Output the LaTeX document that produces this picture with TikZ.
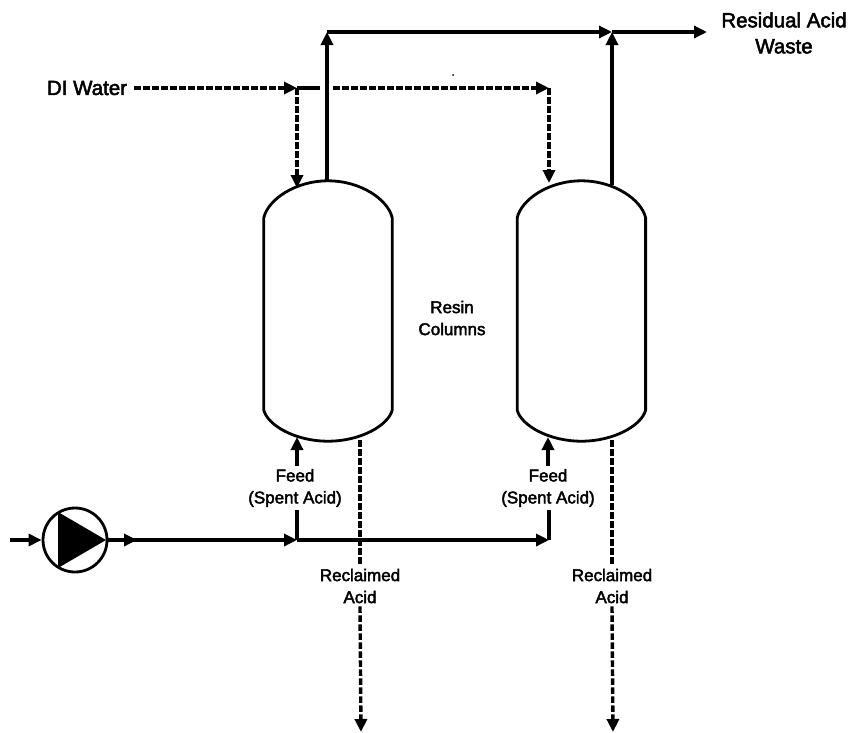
\documentclass[tikz,border=0pt]{standalone}
\usepackage{fontspec}
\usetikzlibrary{arrows.meta, positioning}
\newfontfamily\tagfont[FakeBold=2.5]{Liberation Sans}

\begin{document}
\begin{tikzpicture}[x=1pt,y=-1pt,
    node distance=125pt,
    flow/.style={line width=3.4pt,-{Triangle[length=13pt,width=12pt]}},
    pipe/.style={line width=3.4pt},
    water/.style={line width=3.4pt,dash pattern=on 6.5pt off 2.5pt},
    wateron/.style={water,-{Triangle[length=13pt,width=12pt]}},
    column/.style={minimum width=128pt,minimum height=260pt,inner sep=0pt},
    tag/.style={font=\tagfont\fontsize{17}{22}\selectfont,align=center,inner sep=3pt},
    bigtag/.style={font=\tagfont\fontsize{20.5}{26}\selectfont,align=center,inner sep=3pt}]
    \useasboundingbox (0,0) rectangle (851,732);
    \node[column] (colA) at (328,311) {};
    \node[column] (colB) [right=of colA] {};
    \node[draw,circle,line width=2.8pt,minimum size=64pt,inner sep=0pt] (pump) at (75,540) {};
    \node[bigtag,inner xsep=7pt] (diwater) at (87,88) {DI Water};
    \node[bigtag] (waste) at (784,33) {Residual Acid\\Waste};
    \node[tag] (resin) at (452,318) {Resin\\Columns};
    \node[tag] (feedA) at (295,488) {Feed\\(Spent Acid)};
    \node[tag] (feedB) at (548,488) {Feed\\(Spent Acid)};
    \node[tag] (reclaimA) at (360,586) {Reclaimed\\Acid};
    \node[tag] (reclaimB) at (612,586) {Reclaimed\\Acid};
    \coordinate (pumpIn) at (10,540);
    \coordinate (pumpOut) at (137,540);
    \coordinate (pumpLine) at (130,540);
    \coordinate (junA) at (297,540);
    \coordinate (junB) at (549,540);
    \coordinate (topA) at (327,32);
    \coordinate (topB) at (612,32);
    \coordinate (wasteEnd) at (707,32);
    \coordinate (ventB) at (612,185);
    \coordinate (waterA) at (297,88);
    \coordinate (waterStop) at (320,88);
    \coordinate (waterGo) at (333,88);
    \coordinate (waterB) at (549,88);
    \coordinate (washA) at (297,188);
    \coordinate (washB) at (549,183);
    \coordinate (inA) at (297,437);
    \coordinate (inB) at (548,437);
    \coordinate (drainA) at (360,440);
    \coordinate (drainB) at (612,440);
    \coordinate (endA) at (361,732);
    \coordinate (endB) at (613,732);
    \foreach \vessel in {colA,colB}
        \draw[line width=2.8pt] ([shift={(0,37)}]\vessel.north west) .. controls +(4,-18) and +(-33,0) .. (\vessel.north)
            .. controls +(33,0) and +(-4,-18) .. ([shift={(0,37)}]\vessel.north east)
            -- ([shift={(0,-31)}]\vessel.south east) .. controls +(-4,15) and +(33,0) .. (\vessel.south)
            .. controls +(-33,0) and +(4,15) .. ([shift={(0,-31)}]\vessel.south west) -- cycle;
    \fill ([shift={(-17,-28)}]pump.center) -- ([shift={(31,0)}]pump.center) -- ([shift={(-17,28)}]pump.center) -- cycle;
    \draw[flow] (pumpIn) -- (pump.west);
    \draw[flow] (pump.east) -- (pumpOut);
    \draw[flow] (pumpLine) -- (junA);
    \draw[flow] (junA) -- (junB);
    \draw[pipe] (junA) -- (junA |- feedA.south);
    \draw[flow] (junA |- feedA.north) -- (inA);
    \draw[pipe] (junB) -- (junB |- feedB.south);
    \draw[flow] (inB |- feedB.north) -- (inB);
    \draw[flow] (colA.north -| topA) -- (topA);
    \draw[flow] (topA) -- (topB);
    \draw[flow] (topB) -- (wasteEnd);
    \draw[flow] (ventB) -- (topB);
    \draw[wateron] (diwater.east) -- (waterA);
    \draw[pipe] (waterA) -- (waterStop);
    \draw[wateron] (waterGo) -- (waterB);
    \draw[wateron] (waterA) -- (washA);
    \draw[wateron] (waterB) -- (washB);
    \draw[water] (drainA) -- (reclaimA.north);
    \draw[wateron] (reclaimA.south) -- (endA);
    \draw[water] (drainB) -- (reclaimB.north);
    \draw[wateron] (reclaimB.south) -- (endB);
    \fill (453,75) circle (1pt);
\end{tikzpicture}
\end{document}
